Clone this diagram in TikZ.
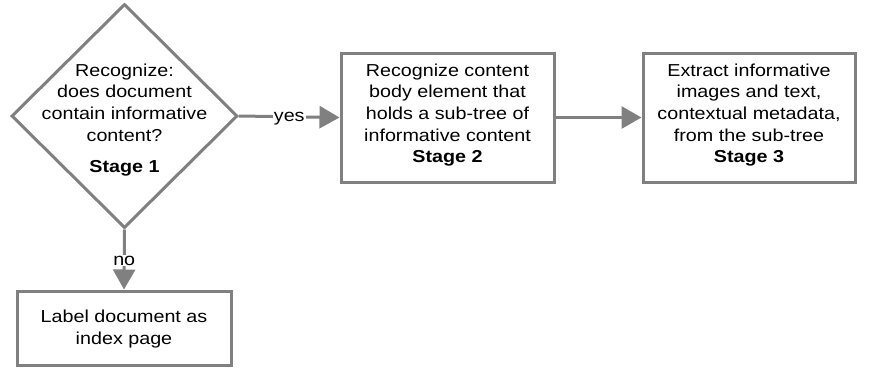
\documentclass[tikz,border=0pt]{standalone}
\usepackage{fontspec}
\setmainfont{Liberation Sans}[FakeStretch=1.14]
\usetikzlibrary{shapes.geometric,arrows.meta}
\definecolor{lc}{HTML}{808080}
\begin{document}
\begin{tikzpicture}[x=1pt,y=-1pt,
  txt/.style={font=\fontsize{17.3}{21.7}\selectfont,align=center,inner sep=0pt},
  box/.style={draw=lc,line width=3pt,minimum width=213pt,minimum height=129pt,inner sep=0pt},
  dia/.style={diamond,draw=lc,line width=3pt,minimum width=226pt,minimum height=224pt,inner sep=0pt},
  arr/.style={draw=lc,line width=3pt,-{Triangle[length=20pt,width=22pt]}},
  lab/.style={txt,fill=white,inner sep=1pt,anchor=base}]
\useasboundingbox (0,0) rectangle (876,368);
\node[dia] (d) at (124.5,116) {};
\node[txt] (dt) at (124.5,120) {Recognize:\\does document\\contain informative\\content?\\[10pt]\textbf{Stage 1}};
\node[box] (b2) at (447.5,117.5) {};
\node[txt] (t2) at ([yshift=2.5pt]b2.center) {Recognize content\\body element that\\holds a sub-tree of\\informative content\\\textbf{Stage 2}};
\node[box,minimum width=212pt] (b3) at (749,117.5) {};
\node[txt] (t3) at ([yshift=2.5pt]b3.center) {Extract informative\\images and text,\\contextual metadata,\\from the sub-tree\\\textbf{Stage 3}};
\node[box,minimum width=214pt,minimum height=74pt] (b0) at (124,328) {};
\node[txt] (t0) at ([yshift=-1pt]b0.center) {Label document as\\index page};
\draw[arr] (d.east) -- node[lab,yshift=-4.5pt] {yes} (b2.west);
\draw[arr] (b2.east) -- (b3.west);
\draw[arr] (d.south) -- node[lab,yshift=-5.5pt] {no} (b0.north);
\end{tikzpicture}
\end{document}
